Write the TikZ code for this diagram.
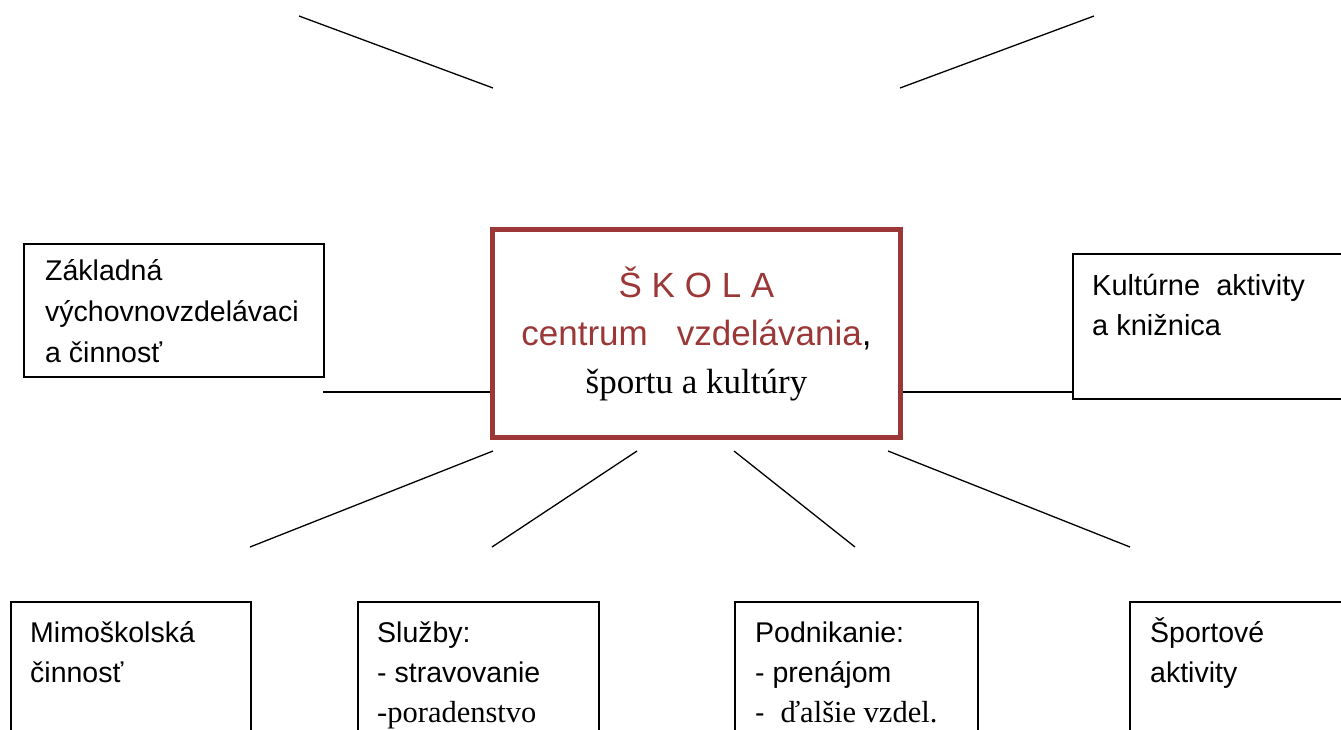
\documentclass[tikz,border=0pt]{standalone}
\usepackage{fontspec}
\setmainfont{Liberation Serif}
\setsansfont{Liberation Sans}
\definecolor{skolared}{RGB}{155,55,55}
\begin{document}
\begin{tikzpicture}[x=1pt,y=-1pt,
  box/.style={draw, line width=1.5pt, anchor=north west, inner sep=0pt},
  conn/.style={line width=1.3pt},
  lbl/.style={anchor=base west, align=left, inner sep=0pt, font=\sffamily\fontsize{28.5}{40}\selectfont},
  srf/.style={font=\rmfamily\fontsize{30.5}{40}\selectfont}]
\useasboundingbox (0,0) rectangle (1341,729);
\clip (0,0) rectangle (1341,729);

% central box
\node[draw=skolared, line width=5pt, minimum width=408pt, minimum height=208pt,
      align=center, inner sep=0pt, font=\fontsize{35}{48}\selectfont] (skola) at (696.5,333.5)
  {\textsf{\textcolor{skolared}{Š K O L A}}\\
   \textsf{\textcolor{skolared}{centrum\ \ \ vzdelávania},}\\
   športu a kultúry};

% side boxes (text nodes are anchored at the baseline of their last line)
\node[box, minimum width=300pt, minimum height=133pt] (zakl) at (23,243) {};
\node[lbl, font=\sffamily\fontsize{28.5}{41}\selectfont] (zaklt) at (45,362) {Základná\\výchovnovzdelávaci\\a činnosť};

\node[box, minimum width=320pt, minimum height=145pt] (kult) at (1072,253) {};
\node[lbl, font=\sffamily\fontsize{29}{40}\selectfont] (kultt) at (1092,335) {Kultúrne\ \ aktivity\\a knižnica};

% bottom boxes
\node[box, minimum width=240pt, minimum height=200pt] (mimo) at (10,601) {};
\node[lbl] (mimot) at (30,682) {Mimoškolská\\činnosť};

\node[box, minimum width=241pt, minimum height=200pt] (sluz) at (357,601) {};
\node[lbl] (sluzt) at (377,722) {Služby:\\- stravovanie\\{\rmfamily\fontsize{30.5}{40}\selectfont -poradenstvo}};

\node[box, minimum width=243pt, minimum height=200pt] (podn) at (734,601) {};
\node[lbl] (podnt) at (755,722) {Podnikanie:\\- prenájom\\-\ \ {\rmfamily\fontsize{30.5}{40}\selectfont ďalšie vzdel.}};

\node[box, minimum width=300pt, minimum height=200pt] (sport) at (1129,601) {};
\node[lbl] (sportt) at (1150,682) {Športové\\aktivity};

% free ends of connectors
\coordinate (t1a) at (299,16);  \coordinate (t1b) at (493,88);
\coordinate (t2a) at (1094,16); \coordinate (t2b) at (900,88);
\coordinate (lft) at (323,392);
\coordinate (b1a) at (493,451); \coordinate (b1b) at (250,547);
\coordinate (b2a) at (637,451); \coordinate (b2b) at (492,547);
\coordinate (b3a) at (734,451); \coordinate (b3b) at (855,547);
\coordinate (b4a) at (888,451); \coordinate (b4b) at (1130,547);

\draw[conn] (t1a) -- (t1b);
\draw[conn] (t2a) -- (t2b);
\draw[conn] (lft) -- (skola.west |- lft);
\draw[conn] (skola.east |- lft) -- (kult.west |- lft);
\draw[conn] (b1a) -- (b1b);
\draw[conn] (b2a) -- (b2b);
\draw[conn] (b3a) -- (b3b);
\draw[conn] (b4a) -- (b4b);
\end{tikzpicture}
\end{document}
